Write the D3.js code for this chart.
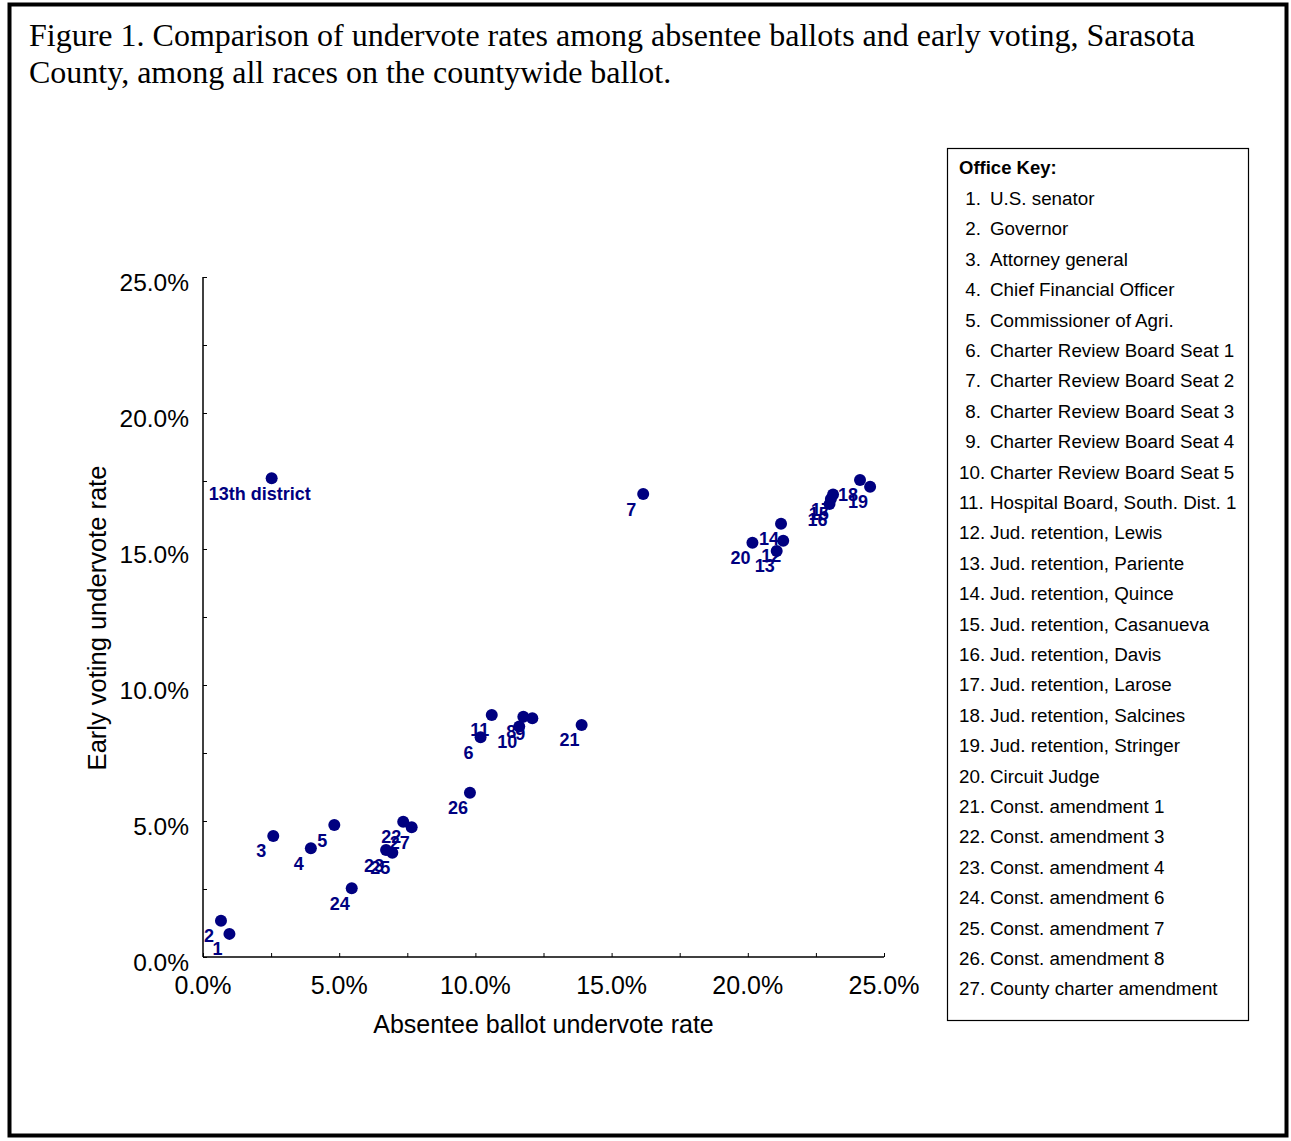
<!DOCTYPE html>
<html>
<head>
<meta charset="utf-8">
<script src="https://cdn.jsdelivr.net/npm/d3@7/dist/d3.min.js"></script>
<style>
  html, body { margin: 0; padding: 0; background: #fff; }
  svg { display: block; }
</style>
</head>
<body>
<svg id="fig" width="1291" height="1141"></svg>
<script>
// Undervote rates (%) per race, absentee ballots vs early voting
const raceLabels = ["1","2","3","4","5","6","7","8","9","10","11","12","13","14",
  "15","16","17","18","19","20","21","22","23","24","25","26","27","13th district"];
const absenteeRate = [0.97, 0.66, 2.58, 3.96, 4.82, 10.19, 16.16, 11.76, 12.09, 11.61,
  10.60, 21.30, 21.06, 21.22, 23.05, 23.00, 23.13, 24.12, 24.49, 20.17, 13.90,
  7.35, 6.72, 5.46, 6.95, 9.80, 7.66, 2.52];
const earlyRate = [0.85, 1.33, 4.45, 4.00, 4.85, 8.08, 17.02, 8.83, 8.78, 8.47,
  8.90, 15.30, 14.93, 15.93, 16.84, 16.65, 17.00, 17.54, 17.29, 15.23, 8.53,
  4.97, 3.93, 2.53, 3.83, 6.04, 4.77, 17.60];

const officeKey = [
  "U.S. senator", "Governor", "Attorney general", "Chief Financial Officer",
  "Commissioner of Agri.", "Charter Review Board Seat 1", "Charter Review Board Seat 2",
  "Charter Review Board Seat 3", "Charter Review Board Seat 4", "Charter Review Board Seat 5",
  "Hospital Board, South. Dist. 1", "Jud. retention, Lewis", "Jud. retention, Pariente",
  "Jud. retention, Quince", "Jud. retention, Casanueva", "Jud. retention, Davis",
  "Jud. retention, Larose", "Jud. retention, Salcines", "Jud. retention, Stringer",
  "Circuit Judge", "Const. amendment 1", "Const. amendment 3", "Const. amendment 4",
  "Const. amendment 6", "Const. amendment 7", "Const. amendment 8", "County charter amendment"
];

const majorTicks = [0, 5, 10, 15, 20, 25];
const minorTicks = [0, 2.5, 5, 7.5, 10, 12.5, 15, 17.5, 20, 22.5, 25];

const points = raceLabels.map((label, i) => ({ label, x: absenteeRate[i], y: earlyRate[i] }));

const svg = d3.select("#fig");
const sans = "Arial, 'Liberation Sans', sans-serif";
const serif = "'Times New Roman', 'Liberation Serif', serif";
const navy = "#000080";

// outer frame
svg.append("rect")
  .attr("x", 9.5).attr("y", 4.5).attr("width", 1277).attr("height", 1131)
  .attr("fill", "#fff").attr("stroke", "#000").attr("stroke-width", 4);

// caption
const caption = svg.append("text")
  .attr("font-family", serif).attr("font-size", 32).attr("fill", "#000");
caption.append("tspan").attr("x", 29).attr("y", 46)
  .text("Figure 1. Comparison of undervote rates among absentee ballots and early voting, Sarasota");
caption.append("tspan").attr("x", 29).attr("y", 83)
  .text("County, among all races on the countywide ballot.");

// scales
const x = d3.scaleLinear().domain([0, 25]).range([203, 884]);
const y = d3.scaleLinear().domain([0, 25]).range([957, 277]);
const pct = d3.format(".1%");

// x axis
const xAxis = svg.append("g").attr("transform", `translate(0,${y(0)})`)
  .call(d3.axisBottom(x).tickValues(minorTicks).tickSize(-4).tickFormat(""));
xAxis.select(".domain").attr("d", `M${x(0)},0H${x(25)}`).attr("stroke-width", 1.5);
xAxis.selectAll(".tick line").attr("stroke-width", 1);

svg.append("g").selectAll("text").data(majorTicks).join("text")
  .attr("x", d => x(d)).attr("y", y(0) + 37)
  .attr("text-anchor", "middle")
  .attr("font-family", sans).attr("font-size", 25)
  .text(d => pct(d / 100));

// y axis
const yAxis = svg.append("g").attr("transform", `translate(${x(0)},0)`)
  .call(d3.axisLeft(y).tickValues(minorTicks).tickSize(-4).tickFormat(""));
yAxis.select(".domain").attr("d", `M0,${y(0)}V${y(25)}`).attr("stroke-width", 1.5);
yAxis.selectAll(".tick line").attr("stroke-width", 1);

svg.append("g").selectAll("text").data(majorTicks).join("text")
  .attr("x", 189).attr("y", d => y(d) + 14)
  .attr("text-anchor", "end")
  .attr("font-family", sans).attr("font-size", 24.5)
  .text(d => pct(d / 100));

// axis titles
svg.append("text")
  .attr("x", (x(0) + x(25)) / 2).attr("y", 1033)
  .attr("text-anchor", "middle")
  .attr("font-family", sans).attr("font-size", 25)
  .text("Absentee ballot undervote rate");

svg.append("text")
  .attr("transform", `translate(106,${(y(0) + y(25)) / 2 + 1}) rotate(-90)`)
  .attr("text-anchor", "middle")
  .attr("font-family", sans).attr("font-size", 25.5)
  .text("Early voting undervote rate");

// point labels, placed below-left of each marker
svg.append("g").selectAll("text").data(points).join("text")
  .attr("x", d => x(d.x) - 12).attr("y", d => y(d.y) + 15)
  .attr("dy", "0.36em")
  .attr("text-anchor", "middle")
  .attr("font-family", sans).attr("font-size", 18).attr("font-weight", "bold")
  .attr("fill", navy)
  .text(d => d.label);

// markers
svg.append("g").selectAll("circle").data(points).join("circle")
  .attr("cx", d => x(d.x)).attr("cy", d => y(d.y))
  .attr("r", 6).attr("fill", navy);

// office key
const key = svg.append("g");
key.append("rect")
  .attr("x", 947.5).attr("y", 148.5).attr("width", 301).attr("height", 872)
  .attr("fill", "#fff").attr("stroke", "#000").attr("stroke-width", 1.2);
key.append("text")
  .attr("x", 959).attr("y", 174)
  .attr("font-family", sans).attr("font-size", 18.5).attr("font-weight", "bold")
  .text("Office Key:");
const rowY = i => 205 + i * 30.4;
key.append("g").selectAll("text").data(officeKey).join("text")
  .attr("x", (d, i) => i < 9 ? 981 : 959).attr("y", (d, i) => rowY(i))
  .attr("text-anchor", (d, i) => i < 9 ? "end" : "start")
  .attr("font-family", sans).attr("font-size", 18.8)
  .text((d, i) => `${i + 1}.`);
key.append("g").selectAll("text").data(officeKey).join("text")
  .attr("x", 990).attr("y", (d, i) => rowY(i))
  .attr("font-family", sans).attr("font-size", 18.8)
  .text(d => d);
</script>
</body>
</html>
